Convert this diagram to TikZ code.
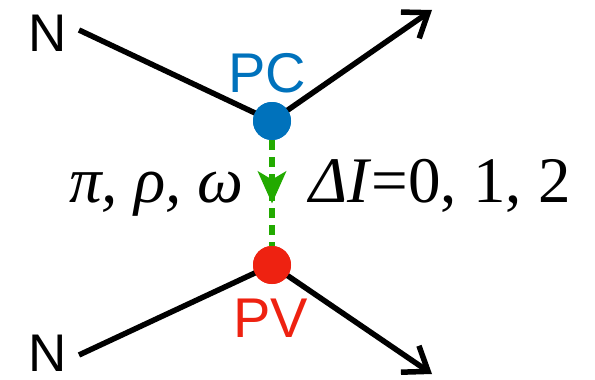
\documentclass[tikz,border=0pt]{standalone}
\usepackage{fontspec}
\setmainfont{Liberation Serif}
\newfontfamily\labelsans{Liberation Sans}
\usetikzlibrary{arrows.meta, decorations.markings}
\definecolor{pcblue}{HTML}{0072BC}
\definecolor{pvred}{HTML}{EE2211}
\definecolor{exgreen}{HTML}{22AA00}

\begin{document}
\begin{tikzpicture}[x=1pt, y=-1pt,
  leg/.style={line width=5.5pt, black},
  outleg/.style={leg, -{Straight Barb[length=22pt, width=32pt, line width=5.5pt]}},
  vertex/.style={circle, inner sep=0pt, minimum size=38pt},
  exch/.style={line width=6pt, exgreen, dash pattern=on 10pt off 7pt,
    postaction={decorate, decoration={markings,
      mark=at position 0.6 with {\arrow[solid]{Stealth[length=32pt, width=28pt, inset=8pt]}}}}},
  nlabel/.style={font=\labelsans\fontsize{53}{53}\selectfont, anchor=base west, inner sep=0pt},
  vlabel/.style={font=\labelsans\fontsize{56}{56}\selectfont, anchor=base west, inner sep=0pt},
  mlabel/.style={font=\fontsize{65}{65}\selectfont, inner sep=0pt},
]
\useasboundingbox (0,0) rectangle (595,380);
\node[vertex, fill=pcblue] (pc) at (272,121) {};
\node[vertex, fill=pvred] (pv) at (272,265) {};
\coordinate (ninup) at (79,30);
\coordinate (nindown) at (79,355);
\coordinate (outup) at (432,10);
\coordinate (outdown) at (432,374);
% external legs
\draw[leg] (ninup) -- (pc.center);
\draw[outleg] (pc.center) -- (outup);
\draw[leg] (nindown) -- (pv.center);
\draw[outleg] (pv.center) -- (outdown);
% exchanged meson
\draw[exch] (pc) -- (pv);
\node[vertex, fill=pcblue] at (pc) {};
\node[vertex, fill=pvred] at (pv) {};
\node[nlabel] (ntop) at (28,51) {N};
\node[nlabel] (nbot) at (28,371) {N};
\node[vlabel, text=pcblue] (pclabel) at (228,92) {PC};
\node[vlabel, text=pvred] (pvlabel) at (233,337) {PV};
\node[mlabel, anchor=base east] (mesons) at (244,202) {\textit{π, ρ, ω}};
\node[mlabel, anchor=base west] (isospin) at (309,202) {\textit{ΔI}=0, 1, 2};
\end{tikzpicture}
\end{document}
